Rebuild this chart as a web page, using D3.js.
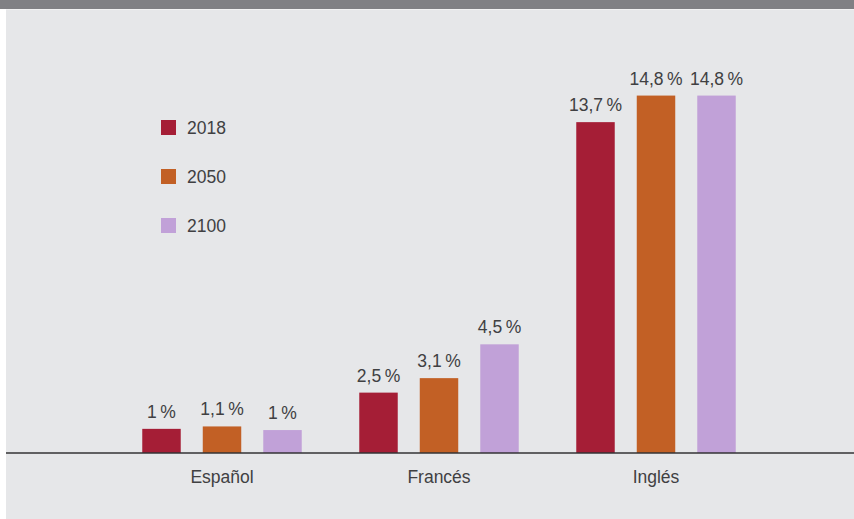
<!DOCTYPE html>
<html>
<head>
<meta charset="utf-8">
<script src="https://cdn.jsdelivr.net/npm/d3@7"></script>
<style>
  html, body { margin: 0; padding: 0; background: #ffffff; }
  svg { display: block; }
  text { font-family: "Liberation Sans", Arial, Helvetica, sans-serif; fill: #404042; }
</style>
</head>
<body>
<div id="chart"></div>
<script>
// Chart data
const languages = ['Español', 'Francés', 'Inglés'];
const years = ['2018', '2050', '2100'];
const values2018 = [1.0, 2.5, 13.7];
const values2050 = [1.1, 3.1, 14.8];
const values2100 = [0.95, 4.5, 14.8];
const labels2018 = ['1\u2009%', '2,5\u2009%', '13,7\u2009%'];
const labels2050 = ['1,1\u2009%', '3,1\u2009%', '14,8\u2009%'];
const labels2100 = ['1\u2009%', '4,5\u2009%', '14,8\u2009%'];

const width = 854;
const height = 519;
const colors = { '2018': '#a51e36', '2050': '#c26025', '2100': '#c1a1d8' };

const seriesValues = { '2018': values2018, '2050': values2050, '2100': values2100 };
const seriesLabels = { '2018': labels2018, '2050': labels2050, '2100': labels2100 };

const svg = d3.select('#chart')
    .append('svg')
    .attr('width', width)
    .attr('height', height);

// Background panel and top band
svg.append('rect')
    .attr('x', 6).attr('y', 0)
    .attr('width', width - 6).attr('height', height)
    .attr('fill', '#e6e7e9');
svg.append('rect')
    .attr('x', 0).attr('y', 0)
    .attr('width', width).attr('height', 9)
    .attr('fill', '#808084');
svg.append('rect')
    .attr('x', 6).attr('y', 9)
    .attr('width', width - 6).attr('height', 1)
    .attr('fill', '#f1f1f2');

// Scales
const baseline = 453;
const x0 = d3.scaleBand()
    .domain(languages)
    .range([113.5, 764.5])
    .padding(0);

const x1 = d3.scaleBand()
    .domain(years)
    .range([17.75, x0.bandwidth() - 17.75])
    .paddingInner(0.364)
    .paddingOuter(0.182);

const y = d3.scaleLinear()
    .domain([0, 15])
    .range([baseline, baseline - 15 * 24.15]);

// Bars and value labels
const groups = svg.selectAll('g.group')
    .data(languages)
    .enter()
    .append('g')
    .attr('class', 'group')
    .attr('transform', d => `translate(${x0(d)},0)`);

const barData = (d, i) => years.map(yr => ({ year: yr, value: seriesValues[yr][i], label: seriesLabels[yr][i] }));

groups.selectAll('rect')
    .data(barData)
    .enter()
    .append('rect')
    .attr('x', d => x1(d.year))
    .attr('y', d => y(d.value))
    .attr('width', x1.bandwidth())
    .attr('height', d => baseline - y(d.value))
    .attr('fill', d => colors[d.year]);

groups.selectAll('text.value')
    .data(barData)
    .enter()
    .append('text')
    .attr('class', 'value')
    .attr('x', d => x1(d.year) + x1.bandwidth() / 2)
    .attr('y', d => y(d.value) - 11)
    .attr('text-anchor', 'middle')
    .style('font-size', '17.5px')
    .text(d => d.label);

// Baseline axis
const xAxis = d3.axisBottom(x0).tickSize(0).tickPadding(0);
const axisG = svg.append('g')
    .attr('transform', `translate(0,${baseline})`)
    .call(xAxis);
axisG.select('.domain').remove();
axisG.selectAll('text')
    .attr('dy', null)
    .attr('y', 30)
    .style('font-size', '17.5px')
    .style('font-family', '"Liberation Sans", Arial, Helvetica, sans-serif')
    .style('fill', '#404042');

svg.append('line')
    .attr('x1', 6).attr('x2', width)
    .attr('y1', baseline).attr('y2', baseline)
    .attr('stroke', '#333335')
    .attr('stroke-width', 1.5);

// Legend
const legend = svg.append('g')
    .attr('transform', 'translate(161,120)');

const legendItems = legend.selectAll('g')
    .data(years)
    .enter()
    .append('g')
    .attr('transform', (d, i) => `translate(0,${i * 49})`);

legendItems.append('rect')
    .attr('width', 15)
    .attr('height', 15)
    .attr('fill', d => colors[d]);

legendItems.append('text')
    .attr('x', 26)
    .attr('y', 13.5)
    .style('font-size', '17.5px')
    .text(d => d);
</script>
</body>
</html>
